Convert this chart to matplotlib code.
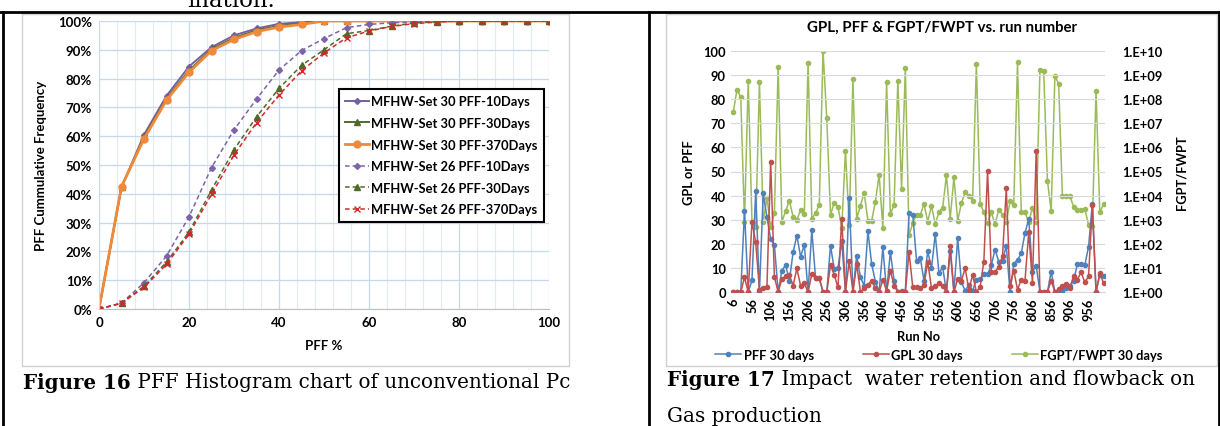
import matplotlib
matplotlib.use("Agg")
import matplotlib.pyplot as plt
from matplotlib.lines import Line2D
from matplotlib.patches import Rectangle

# ---- Figure 16 data: cumulative PFF frequency (%) vs PFF % ----
pff_pct = [0, 5, 10, 15, 20, 25, 30, 35, 40, 45, 50, 55, 60, 65, 70, 75, 80, 85, 90, 95, 100]
set30_10d = [0, 42.2, 60.5, 74.0, 84.2, 90.9, 95.0, 97.4, 99.0, 99.6, 100, 100, 100, 100, 100, 100, 100, 100, 100, 100, 100]
set30_30d = [0, 42.4, 59.6, 73.0, 82.8, 90.2, 94.1, 96.8, 98.3, 99.2, 100, 100, 100, 100, 100, 100, 100, 100, 100, 100, 100]
set30_370d = [0, 42.5, 59.1, 72.5, 82.2, 89.7, 93.6, 96.3, 97.9, 98.8, 100, 100, 100, 100, 100, 100, 100, 100, 100, 100, 100]
set26_10d = [0, 2.1, 9.1, 18.4, 32.0, 49.1, 62.2, 72.9, 83.0, 89.7, 93.9, 97.7, 98.8, 99.4, 99.6, 100, 100, 100, 100, 100, 100]
set26_30d = [0, 2.0, 7.9, 16.3, 26.7, 41.3, 55.3, 66.7, 76.6, 84.6, 90.0, 95.6, 96.7, 98.2, 99.3, 99.7, 100, 100, 100, 100, 100]
set26_370d = [0, 2.0, 7.5, 15.5, 26.0, 39.8, 53.5, 64.7, 74.3, 82.7, 88.9, 94.2, 96.5, 98.1, 99.1, 99.6, 100, 100, 100, 100, 100]
fig16_labels = ["MFHW-Set 30 PFF-10Days", "MFHW-Set 30 PFF-30Days", "MFHW-Set 30 PFF-370Days",
                "MFHW-Set 26 PFF-10Days", "MFHW-Set 26 PFF-30Days", "MFHW-Set 26 PFF-370Days"]

# ---- Figure 17 data: per run number ----
run_no = list(range(6, 1000, 10))
pff_30 = [0, 0, 0, 33.7, 0, 4.8, 42, 0, 41, 31, 22, 19.5, 0, 8.9, 11.2, 4.7, 16.5, 23.4, 14.7, 19.6,
          0, 25.7, 5.7, 5.7, 0, 0, 19.2, 9.5, 9.8, 21.3, 0, 38.9, 0, 15.1, 6.1, 2.6, 25.3, 11.6, 4.3, 0,
          18.5, 0, 16.7, 4.7, 0, 0.5, 0, 32.8, 32.1, 13, 14.1, 4.7, 16.9, 9.8, 24, 7.9, 10.2, 0, 17, 0,
          22.3, 4, 0.6, 2.9, 0.6, 5.1, 5.4, 7.3, 7.3, 11.2, 17.6, 12.6, 13, 19.2, 0, 11.8, 13.3, 16, 24.5, 30.3,
          8.5, 10.8, 0, 0, 0, 8.4, 0, 0, 0.5, 1.5, 2.6, 4.7, 11.6, 11.6, 11.2, 18.8, 36.5, 0, 7.1, 6.8]
gpl_30 = [0, 0, 0, 6.1, 0, 29.2, 20.6, 1, 1.5, 2, 54, 6.2, 0, 5.4, 6.5, 7, 2.6, 9.8, 2.6, 3.6,
          0, 7.5, 6, 5.7, 0, 0, 11.2, 7.1, 1.9, 30.3, 0, 12.7, 0, 11.6, 0.1, 1.5, 3, 4.7, 1.5, 0,
          5.1, 0.5, 8.9, 2.6, 0, 0, 0, 16.5, 1.9, 1.9, 1.5, 2.9, 12.6, 1.5, 2.6, 3.6, 2.6, 0, 19.2, 0,
          5.4, 4.7, 9.8, 1, 7.1, 0, 2.2, 12.6, 50.3, 8.2, 8.2, 10.5, 15.1, 43, 2.6, 8.9, 1, 5.1, 4.7, 24.8,
          3.7, 58.6, 0, 0, 0, 4.7, 0, 1.2, 2.4, 3.3, 1.5, 6.8, 5.1, 8.2, 4, 6.5, 36.1, 0, 7.9, 3.7]
fgpt_fwpt_30 = [3.0e7, 2.5e8, 1.2e8, 8.3e2, 5.9e8, 8.3e2, 4.8e2, 5.0e8, 8.3e2, 8.1e3,
                5.1e2, 1.9e3, 2.1e9, 8.3e2, 2.3e3, 6.2e3, 1.3e3, 9.8e2, 2.5e3, 1.8e3,
                3.2e9, 1.1e3, 1.9e3, 4.1e3, 1.0e10, 1.6e7, 1.6e3, 5.1e3, 3.5e3, 4.4e2,
                7.2e5, 6.0e2, 6.9e8, 1.1e3, 3.8e3, 1.3e4, 9.1e2, 9.1e2, 5.6e3, 7.4e4,
                4.4e2, 5.0e8, 1.7e3, 4.1e3, 5.9e8, 1.9e4, 1.9e9, 2.3e2, 7.1e2, 1.6e3,
                1.6e3, 4.5e3, 8.3e2, 3.8e3, 6.6e2, 2.1e3, 3.2e3, 7.1e4, 1.1e3, 5.8e4,
                9.1e2, 4.9e3, 1.4e4, 1.0e4, 6.2e3, 2.9e9, 4.5e3, 2.1e3, 7.1e2, 2.0e3,
                6.6e2, 2.6e3, 1.6e3, 7.8e2, 5.8e3, 4.1e3, 3.4e9, 2.0e3, 2.0e3, 7.8e2,
                3.2e3, 7.8e2, 1.7e9, 1.5e9, 4.2e4, 2.3e3, 9.5e8, 4.3e8, 1.0e4, 1.0e4,
                9.3e3, 3.5e3, 2.5e3, 2.5e3, 2.8e3, 6.0e2, 5.6e2, 2.2e8, 2.0e3, 4.5e3]
fig17_labels = ["PFF 30 days", "GPL 30 days", "FGPT/FWPT 30 days"]
log_tick_labels = ["1.E+00", "1.E+01", "1.E+02", "1.E+03", "1.E+04", "1.E+05",
                   "1.E+06", "1.E+07", "1.E+08", "1.E+09", "1.E+10"]

plt.rcParams['font.family'] = ['Lato', 'DejaVu Sans']
plt.rcParams['font.weight'] = 'bold'

W, H = 1220, 427


def fx(px):
    return px / W


def fy(py):
    return 1 - py / H


fig = plt.figure(figsize=(W / 100, H / 100), dpi=100)
fig.patch.set_facecolor('white')

# ---- table borders and chart frames ----
for (x0, y0, x1, y1) in [(0, 13, W, 13), (3, 13, 3, H), (649, 13, 649, H), (1219, 13, 1219, H)]:
    fig.add_artist(Line2D([fx(x0), fx(x1)], [fy(y0), fy(y1)], color='black', lw=2))
for (x0, y0, x1, y1) in [(22, 15, 569, 367), (666, 15, 1217, 367)]:
    fig.add_artist(Rectangle((fx(x0), fy(y1)), fx(x1) - fx(x0), fy(y0) - fy(y1),
                             fill=False, edgecolor='#d0d0d0', lw=1))

serif = ['DejaVu Serif']
cap_size = 14.3
# tail of the body text above the table, clipped by the page edge as in the source
fig.text(fx(187), fy(7), "ination.", family=serif, fontweight='normal', fontsize=16.5,
         ha='left', va='baseline')

# ---- Figure 16 ----
ax = fig.add_axes([fx(99), fy(310), (549 - 99) / W, (310 - 22) / H])
ax.set_xlim(0, 100)
ax.set_ylim(0, 100)
ax.set_xticks(range(0, 101, 20))
ax.set_xticks(range(0, 101, 4), minor=True)
ax.set_yticks(range(0, 101, 10))
ax.set_yticklabels([f"{v}%" for v in range(0, 101, 10)])
ax.grid(True, which='major', color='#c6d9f1', lw=0.9)
ax.grid(True, which='minor', axis='x', color='#e1eaf6', lw=0.8)
ax.set_axisbelow(True)
ax.tick_params(which='both', length=0, labelsize=9.5, pad=5)
for side in ['top', 'right']:
    ax.spines[side].set_visible(False)
ax.spines['left'].set_color('#c6d9f1')
ax.spines['bottom'].set_color('#bfbfbf')
ax.set_xlabel("PFF %", fontsize=9.5, fontweight='bold', labelpad=8)
ax.set_ylabel("PFF Cummulative Frequency", fontsize=9.5, fontweight='bold', labelpad=8)

dash = (0, (3, 2))
ax.plot(pff_pct, set30_10d, color='#7460a0', lw=1.4, marker='D', ms=3, label=fig16_labels[0])
ax.plot(pff_pct, set30_30d, color='#4f6a28', lw=1.4, marker='^', ms=4, label=fig16_labels[1])
ax.plot(pff_pct, set30_370d, color='#f08a3a', lw=2.0, marker='o', ms=5, label=fig16_labels[2])
ax.plot(pff_pct, set26_10d, color='#7f63a8', lw=1.1, ls=dash, marker='D', ms=3, label=fig16_labels[3])
ax.plot(pff_pct, set26_30d, color='#4f6a28', lw=1.1, ls=dash, marker='^', ms=4, label=fig16_labels[4])
ax.plot(pff_pct, set26_370d, color='#d0282c', lw=1.1, ls=dash, marker='x', ms=4, label=fig16_labels[5])
leg = ax.legend(loc='upper left', bbox_to_anchor=(0.533, 0.764), borderaxespad=0, fontsize=9.3,
                frameon=True, fancybox=False, framealpha=1, edgecolor='black', labelspacing=0.74,
                handlelength=1.8, handletextpad=0.2, borderpad=0.5)
leg.get_frame().set_linewidth(1.5)

cap16_b = fig.text(fx(23), fy(383), "Figure 16", family=serif, fontweight='bold', fontsize=cap_size,
                   ha='left', va='center')
fig.canvas.draw()
r = fig.canvas.get_renderer()
bb = cap16_b.get_window_extent(r)
fig.text(bb.x1 / W, fy(383), " PFF Histogram chart of unconventional Pc", family=serif,
         fontweight='normal', fontsize=cap_size, ha='left', va='center')

# ---- Figure 17 ----
n = len(run_no)
cat = list(range(n))
bx = fig.add_axes([fx(731.4), fy(293), 374 / W, (293 - 52) / H])
bx.set_xlim(-0.5, n - 0.5)
bx.set_ylim(0, 100)
bx.set_yticks(range(0, 101, 10))
bx.set_xticks(cat[::5])
bx.set_xticklabels([str(v) for v in run_no[::5]], rotation=90)
bx.grid(True, axis='y', color='#d9d9d9', lw=0.8)
bx.set_axisbelow(True)
bx.tick_params(length=0, labelsize=9.3, pad=4)
for side in ['top', 'right', 'left']:
    bx.spines[side].set_visible(False)
bx.spines['bottom'].set_color('#d9d9d9')
bx.set_ylabel("GPL or PFF", fontsize=9.3, fontweight='bold', labelpad=6)
bx.set_xlabel("Run No", fontsize=9.3, fontweight='bold', labelpad=7)

bx2 = bx.twinx()
bx2.set_yscale('log')
bx2.set_ylim(1, 1e10)
bx2.set_yticks([10.0 ** k for k in range(11)])
bx2.set_yticklabels(log_tick_labels)
bx2.minorticks_off()
bx2.tick_params(length=0, labelsize=9.3, pad=12)
for side in ['top', 'right', 'left', 'bottom']:
    bx2.spines[side].set_visible(False)
bx2.set_ylabel("FGPT/FWPT", fontsize=9.3, fontweight='bold', labelpad=9)

h_g, = bx2.plot(cat, fgpt_fwpt_30, color='#9bbb59', lw=1.1, marker='o', ms=3, zorder=1)
h_b, = bx.plot(cat, pff_30, color='#4f81bd', lw=1.1, marker='o', ms=3, zorder=3)
h_r, = bx.plot(cat, gpl_30, color='#c0504d', lw=1.1, marker='o', ms=3, zorder=3)
bx.set_zorder(bx2.get_zorder() + 1)
bx.patch.set_visible(False)

fig.text(fx(942), fy(28), "GPL, PFF & FGPT/FWPT vs. run number", fontsize=10.8,
         fontweight='bold', ha='center', va='center')
fig.legend([h_b, h_r, h_g], fig17_labels, loc='center', bbox_to_anchor=(fx(939), fy(356)),
           ncol=3, frameon=False, fontsize=9.3, handlelength=2.0, handletextpad=0.2,
           columnspacing=3.8)

cap17_b = fig.text(fx(667), fy(380), "Figure 17", family=serif, fontweight='bold', fontsize=cap_size,
                   ha='left', va='center')
fig.canvas.draw()
bb = cap17_b.get_window_extent(fig.canvas.get_renderer())
fig.text(bb.x1 / W, fy(380), " Impact  water retention and flowback on", family=serif,
         fontweight='normal', fontsize=cap_size, ha='left', va='center')
fig.text(fx(667), fy(417), "Gas production", family=serif, fontweight='normal', fontsize=cap_size,
         ha='left', va='center')

fig.savefig("out.png", dpi=100, facecolor='white')
